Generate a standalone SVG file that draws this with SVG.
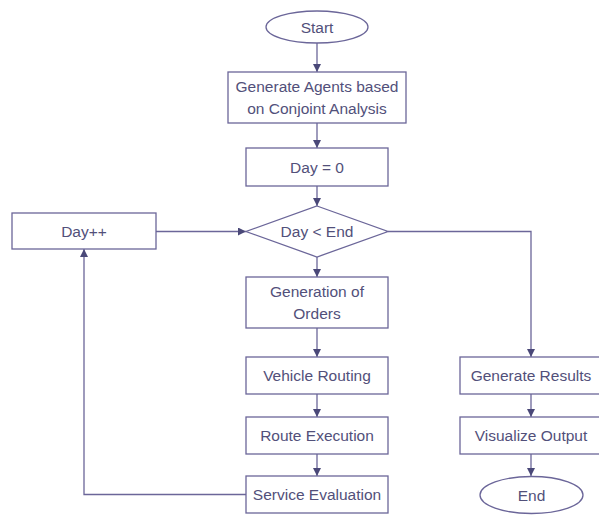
<svg xmlns="http://www.w3.org/2000/svg" width="599" height="515" viewBox="0 0 599 515">
<defs>
<marker id="arr" viewBox="0 0 10 10" refX="10" refY="5" markerWidth="8" markerHeight="8" markerUnits="userSpaceOnUse" orient="auto">
<path d="M0,0 L10,5 L0,10 z" fill="#4a4878"/>
</marker>
<style>
.n{fill:#ffffff;stroke:#6b6699;stroke-width:1.3}
.t{font-family:"Liberation Sans",Arial,sans-serif;font-size:15.5px;fill:#52507a;text-anchor:middle}
.c{fill:none;stroke:#6b6699;stroke-width:1.3}
</style>
</defs>
<rect width="599" height="515" fill="#ffffff"/>
<g id="connectors">
<path class="c" d="M317,43 V72" marker-end="url(#arr)"/>
<path class="c" d="M317,123 V148" marker-end="url(#arr)"/>
<path class="c" d="M317,186 V206" marker-end="url(#arr)"/>
<path class="c" d="M317,257 V277" marker-end="url(#arr)"/>
<path class="c" d="M317,328 V357" marker-end="url(#arr)"/>
<path class="c" d="M317,394 V417" marker-end="url(#arr)"/>
<path class="c" d="M317,454 V476" marker-end="url(#arr)"/>
<path class="c" d="M246,494.5 H84 V249" marker-end="url(#arr)"/>
<path class="c" d="M156,231.5 H246" marker-end="url(#arr)"/>
<path class="c" d="M388,231.5 H531 V357" marker-end="url(#arr)"/>
<path class="c" d="M531,394 V417" marker-end="url(#arr)"/>
<path class="c" d="M531,454 V476" marker-end="url(#arr)"/>
</g>
<g id="start"><ellipse class="n" cx="317" cy="27" rx="51" ry="16"/><text class="t" x="317" y="32.5">Start</text></g>
<g id="generate-agents"><rect class="n" x="228" y="72" width="178" height="51"/><text class="t" x="317" y="92">Generate Agents based</text><text class="t" x="317" y="113.5">on Conjoint Analysis</text></g>
<g id="day0"><rect class="n" x="246" y="148" width="142" height="38"/><text class="t" x="317" y="172.5">Day = 0</text></g>
<g id="decision"><polygon class="n" points="317,206 388,231.5 317,257 246,231.5"/><text class="t" x="317" y="237">Day &lt; End</text></g>
<g id="dayinc"><rect class="n" x="12" y="213" width="144" height="36"/><text class="t" x="84" y="236.5">Day++</text></g>
<g id="orders"><rect class="n" x="246" y="277" width="142" height="51"/><text class="t" x="317" y="297">Generation of</text><text class="t" x="317" y="318.5">Orders</text></g>
<g id="routing"><rect class="n" x="246" y="357" width="142" height="37"/><text class="t" x="317" y="381">Vehicle Routing</text></g>
<g id="execution"><rect class="n" x="246" y="417" width="142" height="37"/><text class="t" x="317" y="441">Route Execution</text></g>
<g id="evaluation"><rect class="n" x="246" y="476" width="142" height="37"/><text class="t" x="317" y="500">Service Evaluation</text></g>
<g id="results"><rect class="n" x="460" y="357" width="142" height="37"/><text class="t" x="531" y="381">Generate Results</text></g>
<g id="visualize"><rect class="n" x="460" y="417" width="142" height="37"/><text class="t" x="531" y="441">Visualize Output</text></g>
<g id="end"><ellipse class="n" cx="531.5" cy="495" rx="51.5" ry="18.5"/><text class="t" x="531.5" y="500.5">End</text></g>
</svg>
